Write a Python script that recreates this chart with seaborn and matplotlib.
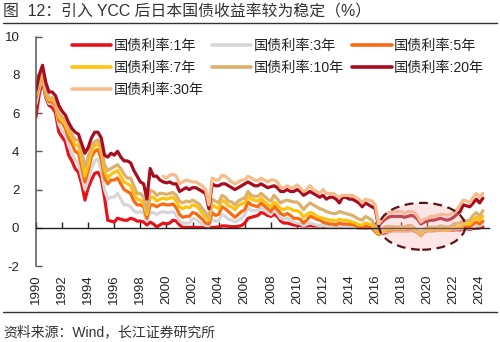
import numpy as np
import pandas as pd
import matplotlib
matplotlib.use("Agg")
import matplotlib.pyplot as plt
import seaborn as sns
from matplotlib.patches import Ellipse
from matplotlib.lines import Line2D

# ---------------- data (quarterly readings, decimal years) ----------------
START_YEAR = 1990.0
START_30Y = 1999.75
STEP = 0.25

y1 = [5.8, 7.0, 7.7, 6.8, 6.4, 6.3, 6.0, 5.0, 4.75, 4.5, 3.8, 3.5, 3.1, 2.9, 2.3, 1.45,
      2.1, 2.5, 2.85, 2.9, 2.6, 1.6, 0.4, 0.35, 0.3, 0.5, 0.45, 0.4, 0.4, 0.5, 0.45, 0.35,
      0.35, 0.3, 0.15, 0.3, 0.2, 0.05, 0.15, 0.25, 0.2, 0.25, 0.4, 0.35, 0.15, 0.02, 0.02, 0.02,
      0.02, 0.02, 0.02, 0.02, 0.02, 0.02, 0.02, 0.03, 0.05, 0.1, 0.1, 0.08, 0.06, 0.06, 0.08, 0.12,
      0.25, 0.5, 0.55, 0.6, 0.65, 0.8, 0.75, 0.65, 0.6, 0.7, 0.6, 0.35, 0.25, 0.25, 0.2, 0.15,
      0.13, 0.12, 0.1, 0.1, 0.12, 0.1, 0.1, 0.1, 0.1, 0.1, 0.1, 0.1, 0.08, 0.1, 0.08, 0.06,
      0.05, 0.05, 0.03, -0.01, 0.0, 0.0, 0.0, -0.02, -0.15, -0.3, -0.3, -0.28, -0.2, -0.15, -0.15, -0.15,
      -0.15, -0.15, -0.15, -0.14, -0.15, -0.2, -0.3, -0.2, -0.15, -0.15, -0.15, -0.13, -0.12, -0.12, -0.13, -0.13,
      -0.12, -0.1, -0.12, -0.05, -0.05, -0.08, -0.03, -0.02, 0.0, 0.05]

y3 = [6.5, 7.3, 7.9, 6.9, 6.5, 6.5, 6.3, 5.4, 5.1, 4.9, 4.3, 3.9, 3.55, 3.4, 2.7, 2.0,
      2.5, 3.1, 3.5, 3.6, 3.0, 2.0, 1.5, 1.6, 1.6, 1.8, 1.5, 1.2, 1.2, 1.1, 0.9, 0.8,
      0.85, 0.75, 0.35, 0.8, 0.8, 0.7, 0.8, 0.85, 0.8, 0.8, 0.85, 0.65, 0.35, 0.25, 0.25, 0.25,
      0.5, 0.45, 0.3, 0.2, 0.12, 0.1, 0.45, 0.35, 0.35, 0.7, 0.6, 0.45, 0.4, 0.3, 0.4, 0.5,
      0.7, 1.05, 0.9, 0.9, 0.9, 1.05, 0.95, 0.8, 0.7, 0.95, 0.75, 0.5, 0.45, 0.5, 0.4, 0.3,
      0.25, 0.22, 0.12, 0.18, 0.25, 0.2, 0.15, 0.12, 0.12, 0.1, 0.08, 0.08, 0.08, 0.1, 0.08, 0.06,
      0.08, 0.07, 0.05, 0.0, 0.0, 0.02, 0.0, -0.02, -0.2, -0.3, -0.25, -0.2, -0.17, -0.15, -0.15, -0.15,
      -0.13, -0.13, -0.12, -0.12, -0.17, -0.22, -0.35, -0.2, -0.15, -0.13, -0.12, -0.13, -0.12, -0.13, -0.14, -0.12,
      -0.08, -0.06, -0.05, 0.0, 0.0, -0.03, 0.03, 0.1, 0.1, 0.2]

y5 = [6.8, 7.5, 8.1, 7.0, 6.6, 6.6, 6.4, 5.6, 5.5, 5.2, 4.7, 4.4, 4.0, 3.9, 3.2, 2.4,
      3.0, 3.7, 4.0, 4.1, 3.6, 2.6, 2.3, 2.5, 2.5, 2.6, 2.3, 2.0, 1.9, 1.8, 1.4, 1.2,
      1.2, 1.1, 0.5, 1.2, 1.2, 1.1, 1.2, 1.25, 1.2, 1.2, 1.25, 1.05, 0.7, 0.55, 0.6, 0.6,
      0.8, 0.75, 0.6, 0.45, 0.25, 0.2, 0.8, 0.65, 0.7, 1.1, 1.0, 0.85, 0.7, 0.55, 0.7, 0.85,
      0.95, 1.35, 1.2, 1.15, 1.1, 1.3, 1.15, 1.0, 0.85, 1.15, 0.95, 0.75, 0.65, 0.75, 0.65, 0.5,
      0.5, 0.45, 0.25, 0.4, 0.6, 0.55, 0.45, 0.4, 0.3, 0.25, 0.2, 0.2, 0.15, 0.25, 0.2, 0.2,
      0.18, 0.17, 0.12, 0.05, 0.05, 0.1, 0.05, 0.0, -0.2, -0.35, -0.25, -0.15, -0.12, -0.12, -0.1, -0.1,
      -0.1, -0.1, -0.07, -0.05, -0.15, -0.25, -0.4, -0.2, -0.12, -0.1, -0.1, -0.1, -0.1, -0.1, -0.12, -0.1,
      -0.05, 0.0, 0.0, 0.1, 0.1, 0.05, 0.2, 0.3, 0.2, 0.35]

y7 = [6.95, 7.6, 8.2, 7.1, 6.7, 6.7, 6.5, 5.8, 5.6, 5.4, 5.0, 4.7, 4.35, 4.3, 3.6, 2.7,
      3.3, 4.0, 4.3, 4.4, 4.0, 3.0, 2.6, 2.8, 2.9, 3.0, 2.7, 2.4, 2.3, 2.2, 1.8, 1.5,
      1.45, 1.3, 0.7, 1.6, 1.6, 1.4, 1.5, 1.55, 1.5, 1.55, 1.6, 1.4, 1.1, 1.0, 1.1, 1.05,
      1.2, 1.15, 1.0, 0.75, 0.55, 0.4, 1.2, 1.1, 1.0, 1.45, 1.35, 1.15, 1.1, 0.95, 1.15, 1.25,
      1.3, 1.65, 1.5, 1.45, 1.4, 1.55, 1.35, 1.25, 1.1, 1.35, 1.2, 1.0, 0.95, 1.05, 1.0, 0.9,
      0.9, 0.8, 0.55, 0.7, 0.8, 0.75, 0.6, 0.55, 0.5, 0.45, 0.4, 0.4, 0.35, 0.45, 0.4, 0.4,
      0.35, 0.3, 0.25, 0.15, 0.15, 0.25, 0.2, 0.15, -0.1, -0.3, -0.25, -0.1, -0.05, -0.05, -0.05, -0.05,
      -0.05, -0.05, 0.0, 0.0, -0.1, -0.2, -0.35, -0.15, -0.1, -0.08, -0.07, -0.08, -0.05, -0.07, -0.1, -0.07,
      0.0, 0.05, 0.05, 0.2, 0.2, 0.2, 0.4, 0.55, 0.4, 0.6]

y10 = [7.0, 7.7, 8.3, 7.2, 6.8, 6.8, 6.6, 6.0, 5.8, 5.6, 5.2, 4.9, 4.6, 4.6, 4.0, 3.2,
       3.7, 4.3, 4.5, 4.6, 4.3, 3.3, 3.0, 3.1, 3.2, 3.3, 3.1, 2.8, 2.6, 2.6, 2.2, 1.8,
       1.8, 1.6, 0.9, 1.95, 1.9, 1.7, 1.8, 1.8, 1.75, 1.8, 1.85, 1.7, 1.4, 1.3, 1.4, 1.35,
       1.45, 1.35, 1.25, 1.0, 0.8, 0.55, 1.5, 1.4, 1.3, 1.7, 1.6, 1.4, 1.35, 1.2, 1.4, 1.5,
       1.55, 1.9, 1.7, 1.65, 1.65, 1.8, 1.65, 1.5, 1.4, 1.7, 1.5, 1.3, 1.4, 1.45, 1.4, 1.35,
       1.35, 1.2, 0.95, 1.15, 1.3, 1.2, 1.1, 1.0, 0.95, 0.85, 0.8, 0.75, 0.75, 0.85, 0.8, 0.75,
       0.7, 0.65, 0.55, 0.45, 0.4, 0.6, 0.5, 0.4, 0.05, -0.2, -0.1, 0.05, 0.07, 0.06, 0.05, 0.05,
       0.05, 0.05, 0.12, 0.12, 0.0, -0.1, -0.25, -0.05, 0.0, 0.03, 0.03, 0.03, 0.1, 0.07, 0.03, 0.07,
       0.2, 0.23, 0.25, 0.4, 0.35, 0.4, 0.65, 0.8, 0.6, 0.9]

y20 = [7.2, 8.0, 8.5, 7.6, 7.1, 7.1, 6.9, 6.4, 6.1, 5.9, 5.5, 5.2, 5.0, 4.9, 4.4, 3.9,
       4.2, 4.7, 5.0, 5.0, 4.7, 3.8, 3.7, 3.9, 3.8, 4.0, 3.7, 3.5, 3.5, 3.4, 3.0, 2.7,
       2.4, 2.3, 1.5, 3.1, 2.7, 2.7, 2.5, 2.4, 2.35, 2.4, 2.3, 2.3, 1.9, 2.0, 2.1, 2.0,
       2.1, 2.1, 2.0, 1.9, 1.8, 1.0, 2.3, 2.2, 2.2, 2.3, 2.3, 2.2, 2.1, 2.0, 2.1, 2.2,
       2.3, 2.4, 2.3, 2.2, 2.2, 2.3, 2.2, 2.1, 2.15, 2.2, 2.1, 1.9, 1.9, 2.0, 1.9, 1.9,
       2.0, 1.9, 1.7, 1.8, 1.9, 1.8, 1.7, 1.6, 1.7, 1.5, 1.6, 1.6, 1.5, 1.3, 1.6, 1.6,
       1.5, 1.5, 1.4, 1.3, 1.1, 1.3, 1.2, 1.1, 1.0, 0.1, 0.3, 0.45, 0.55, 0.6, 0.6, 0.6,
       0.6, 0.55, 0.6, 0.65, 0.6, 0.45, 0.2, 0.3, 0.35, 0.4, 0.4, 0.45, 0.5, 0.45, 0.4, 0.45,
       0.55, 0.7, 0.85, 1.2, 1.15, 1.1, 1.3, 1.5, 1.3, 1.55]

y30 = [2.7,
       2.6, 2.75, 2.8, 2.7, 2.3, 2.4, 2.5, 2.45, 2.4, 2.4, 2.3, 2.2, 2.0, 1.2, 2.6, 2.5,
       2.5, 2.75, 2.7, 2.55, 2.4, 2.3, 2.4, 2.5, 2.5, 2.7, 2.6, 2.5, 2.45, 2.6, 2.5, 2.4,
       2.5, 2.5, 2.4, 2.1, 2.1, 2.2, 2.1, 2.1, 2.25, 2.1, 1.9, 2.0, 2.2, 2.0, 1.9, 1.8,
       2.0, 1.8, 1.8, 1.8, 1.7, 1.6, 1.7, 1.7, 1.7, 1.7, 1.6, 1.5, 1.3, 1.5, 1.45, 1.4,
       1.2, 0.2, 0.45, 0.6, 0.8, 0.8, 0.85, 0.85, 0.85, 0.75, 0.85, 0.85, 0.8, 0.6, 0.3, 0.45,
       0.5, 0.6, 0.6, 0.65, 0.7, 0.7, 0.65, 0.7, 0.8, 0.95, 1.2, 1.45, 1.4, 1.3, 1.6, 1.8,
       1.6, 1.8]

SERIES = ["国债利率:1年", "国债利率:3年", "国债利率:5年", "国债利率:7年",
          "国债利率:10年", "国债利率:20年", "国债利率:30年"]
COLORS = ["#E5131B", "#D6D6D6", "#F76B15", "#FFC20E", "#DDB06C", "#A80C1E", "#F8BC8A"]
TICK_YEARS = list(range(1990, 2025, 2))
Y_TICKS = [-2, 0, 2, 4, 6, 8, 10]
TITLE = "图  12：引入 YCC 后日本国债收益率较为稳定（%）"
SOURCE = "资料来源：Wind，长江证券研究所"

# ellipse highlighting the YCC period (data units)
ELL_CENTER = (2019.6, 0.08)
ELL_W, ELL_H = 6.6, 2.45

# ---------------- build long table ----------------
frames = []
for name, vals, start in [(SERIES[0], y1, START_YEAR), (SERIES[1], y3, START_YEAR),
                          (SERIES[2], y5, START_YEAR), (SERIES[3], y7, START_YEAR),
                          (SERIES[4], y10, START_YEAR), (SERIES[5], y20, START_YEAR),
                          (SERIES[6], y30, START_30Y)]:
    x = start + STEP * np.arange(len(vals))
    frames.append(pd.DataFrame({"year": x, "rate": vals, "series": name}))
df = pd.concat(frames, ignore_index=True)

# ---------------- figure ----------------
sns.set_style("white")
plt.rcParams["font.family"] = ["Liberation Sans", "Noto Sans CJK SC", "DejaVu Sans"]

fig = plt.figure(figsize=(5.0, 3.42), dpi=100)
ax = fig.add_axes([0.072, 0.222, 0.905, 0.671])

sns.lineplot(data=df, x="year", y="rate", hue="series", hue_order=SERIES,
             palette=dict(zip(SERIES, COLORS)), estimator=None, sort=False,
             linewidth=2.3, ax=ax)

ax.set_xlim(1990, 2024.68)
ax.set_ylim(-2, 10)
ax.set_xlabel("")
ax.set_ylabel("")

# spines
for s in ["top", "right"]:
    ax.spines[s].set_visible(False)
ax.spines["left"].set_color("#555555")
ax.spines["left"].set_linewidth(1.1)
ax.spines["bottom"].set_position(("data", 0))
ax.spines["bottom"].set_color("#222222")
ax.spines["bottom"].set_linewidth(1.0)

ax.set_yticks(Y_TICKS)
ax.set_yticklabels([str(v) for v in Y_TICKS])
ax.tick_params(axis="y", direction="in", length=4, width=1, color="#555555",
               pad=12, labelsize=9.5, labelcolor="#222222", left=True)
ax.set_xticks(TICK_YEARS)
ax.tick_params(axis="x", direction="in", length=4, width=1, color="#222222",
               labelbottom=False, bottom=True)

sec = ax.secondary_xaxis("bottom")
sec.set_xticks(TICK_YEARS)
sec.set_xticklabels([str(v) for v in TICK_YEARS], rotation=90)
sec.tick_params(axis="x", length=0, pad=6, labelsize=9.5, labelcolor="#222222")
sec.spines["bottom"].set_visible(False)

# highlight ellipse
ell = Ellipse(ELL_CENTER, ELL_W, ELL_H, facecolor="#F4B6B6", alpha=0.35,
              edgecolor="none", zorder=5)
ax.add_patch(ell)
ell_edge = Ellipse(ELL_CENTER, ELL_W, ELL_H, facecolor="none",
                   edgecolor="#5A1616", linewidth=1.6, linestyle=(0, (4, 2.5)), zorder=6)
ax.add_patch(ell_edge)

# legend (row-major order like the reference)
handles, labels = ax.get_legend_handles_labels()
hmap = dict(zip(labels, handles))
order = [SERIES[i] for i in [0, 3, 6, 1, 4, 2, 5]]
leg = ax.legend([hmap[k] for k in order], order, ncol=3, loc="upper left",
                bbox_to_anchor=(0.143, 0.887), bbox_transform=fig.transFigure,
                frameon=False, fontsize=10.2, handlelength=2.8, handletextpad=0.15,
                columnspacing=0.6, labelspacing=0.58, borderpad=0, borderaxespad=0)
for ln in leg.get_lines():
    ln.set_linewidth(2.6)
for t in leg.get_texts():
    t.set_color("#222222")

# title, rules, source
fig.text(0.006, 0.965, TITLE, fontsize=11.4, color="#333333", va="center", ha="left")
fig.add_artist(Line2D([0.006, 0.994], [0.932, 0.932], color="#333333", linewidth=1.0,
                      transform=fig.transFigure))
fig.add_artist(Line2D([0.006, 0.994], [0.088, 0.088], color="#333333", linewidth=1.0,
                      transform=fig.transFigure))
fig.text(0.006, 0.029, SOURCE, fontsize=10, color="#333333", va="center", ha="left")

fig.savefig("out.png", dpi=100)
